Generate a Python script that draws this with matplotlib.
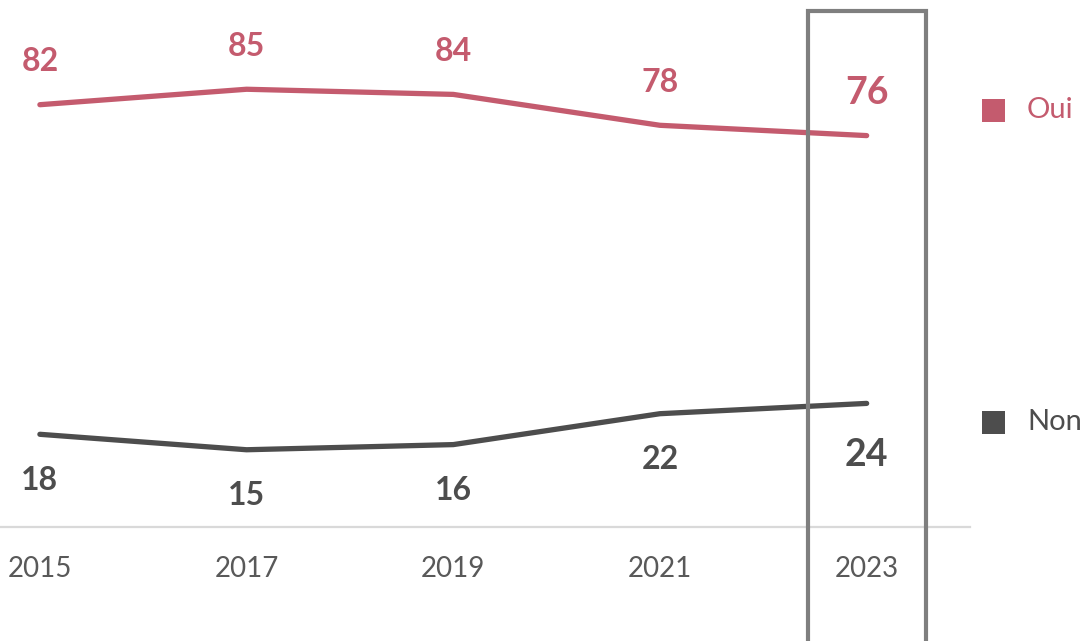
import matplotlib.pyplot as plt
from matplotlib.patches import Rectangle

# =========================
# DATA
# =========================
years = ["2015", "2017", "2019", "2021", "2023"]
oui = [82, 85, 84, 78, 76]
non = [18, 15, 16, 22, 24]

c_oui = "#C45B6E"
c_non = "#4D4D4D"
c_tick = "#595959"

plt.rcParams["font.family"] = ["Lato", "DejaVu Sans"]

W, H = 1084, 641
fig = plt.figure(figsize=(W / 100, H / 100), dpi=100)
# axes: x 0..970 px, y 0..527 px (from top)
ax = fig.add_axes([0, 1 - 527 / H, 970 / W, 527 / H])

x = list(range(len(years)))
ax.plot(x, oui, color=c_oui, lw=3.8, solid_capstyle="round")
ax.plot(x, non, color=c_non, lw=3.8, solid_capstyle="round")

ax.set_xlim(-0.193, 4.5)
ax.set_ylim(0, 527 / 5.15)

for i, v in enumerate(oui):
    big = i == len(oui) - 1
    ax.annotate(str(v), (i, v), xytext=(0, 31), textcoords="offset points",
                ha="center", va="center", fontsize=27 if big else 23,
                fontweight="bold", color=c_oui)
for i, v in enumerate(non):
    big = i == len(non) - 1
    ax.annotate(str(v), (i, v), xytext=(0, -37 if big else -33), textcoords="offset points",
                ha="center", va="center", fontsize=27 if big else 23,
                fontweight="bold", color=c_non)

for s in ["top", "right", "left"]:
    ax.spines[s].set_visible(False)
ax.spines["bottom"].set_color("#D9D9D9")
ax.spines["bottom"].set_linewidth(1.6)
ax.set_yticks([])
ax.set_xticks(x)
ax.set_xticklabels(years, fontsize=20, color=c_tick)
ax.tick_params(axis="x", length=0, pad=21)

# legend on the right
for name, yc, c in [("Oui", 110, c_oui), ("Non", 422, c_non)]:
    yf = 1 - yc / H
    fig.patches.append(Rectangle((982 / W, yf - 11.5 / H), 23 / W, 23 / H,
                                 transform=fig.transFigure, color=c, lw=0))
    fig.text(1027 / W, yf, name, fontsize=21, color=c, va="center", ha="left")

# highlight box around 2023
fig.patches.append(Rectangle((808 / W, -20 / H), 118 / W, (H - 11 + 20) / H,
                             transform=fig.transFigure, fill=False,
                             edgecolor="#7F7F7F", lw=3, clip_on=False))

fig.savefig("out.png", dpi=100)
